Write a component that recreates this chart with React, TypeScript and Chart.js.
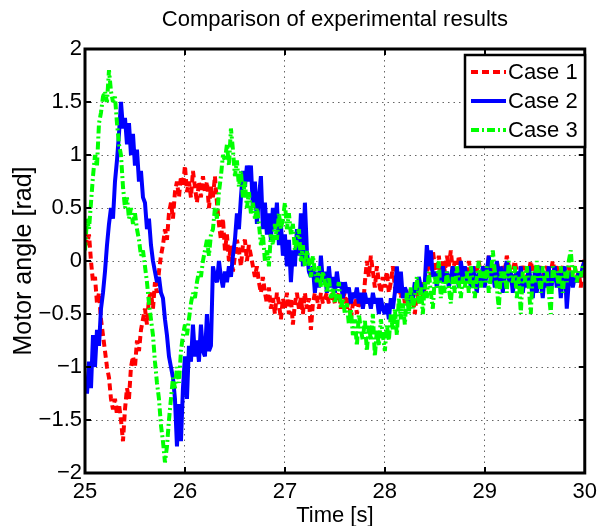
import React, { useEffect, useRef } from "react";
import { Chart, registerables } from "chart.js";

Chart.register(...registerables);

// ---- data ----
const T_START = 25;
const T_STEP = 0.02;
const xTicks = [25, 26, 27, 28, 29, 30];
const yTicks = [-2, -1.5, -1, -0.5, 0, 0.5, 1, 1.5, 2];
const seriesNames = ["Case 1", "Case 2", "Case 3"];
const titleText = "Comparison of experimental results";
const xTitle = "Time [s]";
const yTitle = "Motor angle [rad]";

// Case 1 (red, dashed)
const case1 = [
  0.3, 0.15, 0.25, 0.0, -0.2, -0.15, -0.4, -0.3, -0.55, -0.7,
  -0.85, -1.0, -1.1, -1.3, -1.4, -1.3, -1.45, -1.35, -1.5, -1.7,
  -1.4, -1.2, -1.3, -1.0, -0.9, -1.0, -0.75, -0.85, -0.65, -0.55,
  -0.45, -0.6, -0.35, -0.3, -0.45, -0.2, -0.3, -0.1, 0.05, 0.15,
  0.3, 0.2, 0.45, 0.55, 0.4, 0.65, 0.75, 0.6, 0.8, 0.7,
  0.9, 0.65, 0.75, 0.6, 0.85, 0.7, 0.55, 0.75, 0.6, 0.8,
  0.65, 0.75, 0.5, 0.7, 0.6, 0.8, 0.55, 0.35, 0.2, 0.4,
  0.1, 0.25, 0.0, 0.15, -0.1, 0.05, 0.2, 0.1, -0.05, 0.15,
  0.2, 0.0, 0.15, 0.05, -0.05, -0.15, -0.05, -0.2, -0.3, -0.15,
  -0.3, -0.4, -0.25, -0.45, -0.35, -0.5, -0.3, -0.4, -0.55, -0.35,
  -0.45, -0.3, -0.5, -0.35, -0.6, -0.4, -0.3, -0.45, -0.35, -0.5,
  -0.3, -0.45, -0.35, -0.65, -0.4, -0.3, -0.35, -0.45, -0.3, -0.4,
  -0.35, -0.3, -0.4, -0.35, -0.3, -0.4, -0.35, -0.3, -0.45, -0.35,
  -0.3, -0.45, -0.35, -0.55, -0.4, -0.3, -0.5, -0.4, -0.35, -0.45,
  -0.2, 0.0, -0.15, 0.05, -0.1, -0.25, -0.05, -0.2, -0.3, -0.15,
  -0.25, -0.1, -0.3, -0.2, -0.05, -0.25, -0.3, -0.15, -0.35, -0.25,
  -0.4, -0.3, -0.45, -0.25, -0.35, -0.5, -0.3, -0.4, -0.2, -0.35,
  -0.25, -0.1, 0.0, -0.15, 0.1, -0.05, -0.1, 0.05, -0.15, 0.0,
  -0.1, 0.05, -0.05, 0.1, -0.1, 0.0, -0.15, 0.05, -0.05, -0.15,
  -0.05, -0.15, 0.0, -0.1, -0.2, -0.05, -0.1, 0.0, -0.15, -0.1,
  -0.05, -0.15, 0.05, -0.1, -0.05, -0.2, 0.0, -0.1, -0.15, -0.05,
  -0.1, 0.05, -0.05, -0.15, -0.1, 0.0, -0.1, -0.2, -0.05, -0.1,
  -0.05, -0.15, -0.1, 0.0, -0.1, -0.05, -0.2, -0.1, -0.05, -0.15,
  -0.1, -0.05, -0.15, -0.1, 0.0, -0.1, -0.05, -0.15, -0.1, -0.05,
  -0.15, -0.1, -0.05, -0.2, -0.1, -0.05, -0.15, -0.1, -0.25, -0.1,
  0.05,
];

// Case 2 (blue, solid)
const case2 = [
  -1.1, -1.25, -0.95, -1.2, -0.7, -1.0, -0.65, -0.8, -0.45, -0.3,
  -0.1, 0.15, 0.35, 0.5, 0.4, 0.75, 0.95, 1.2, 1.5, 1.25,
  1.35, 1.1, 1.3, 1.0, 1.2, 0.9, 1.05, 0.75, 0.85, 0.6,
  0.55, 0.3, 0.4, 0.15, 0.0, -0.1, -0.2, -0.15, -0.3, -0.35,
  -0.55, -0.7, -0.9, -1.0, -1.1, -1.3, -1.75, -1.35, -1.7, -1.2,
  -0.9, -1.3, -0.8, -0.95, -0.6, -0.9, -0.75, -0.95, -0.6, -0.85,
  -0.9, -0.5, -0.85, -0.8, -0.05, -0.15, -0.2, 0.0, -0.15, -0.25,
  -0.1, -0.2, -0.05, -0.15, 0.05, 0.2, 0.45, 0.3, 0.6, 0.85,
  0.7, 0.9, 0.75, 0.9, 0.5, 0.75, 0.35, 0.6, 0.8, 0.3,
  0.55, 0.25, 0.45, 0.2, 0.5, 0.3, 0.55, 0.15, 0.35, 0.05,
  0.25, -0.05, 0.2, -0.2, 0.1, -0.05, 0.3, 0.05, 0.45, -0.05,
  0.55, 0.1, -0.1, -0.15, -0.05, -0.3, -0.1, -0.25, 0.05, -0.2,
  -0.1, -0.3, -0.05, -0.25, -0.15, -0.3, -0.1, -0.25, -0.2, -0.35,
  -0.2, -0.3, -0.25, -0.4, -0.3, -0.35, -0.25, -0.4, -0.3, -0.45,
  -0.3, -0.4, -0.35, -0.45, -0.3, -0.4, -0.35, -0.5, -0.35, -0.45,
  -0.5, -0.4, -0.55, -0.35, -0.45, -0.3, -0.05, -0.3, -0.1, -0.35,
  -0.25, -0.3, -0.4, -0.3, -0.35, -0.2, -0.3, -0.15, -0.25, -0.3,
  -0.2, 0.15, -0.05, 0.1, -0.15, -0.1, -0.25, -0.1, -0.2, -0.05,
  -0.2, -0.1, -0.25, -0.15, -0.05, -0.2, -0.1, -0.25, 0.0, -0.15,
  -0.05, -0.2, -0.1, -0.25, -0.05, -0.15, -0.3, -0.1, -0.2, -0.05,
  -0.25, -0.1, 0.05, -0.2, -0.1, -0.25, 0.0, -0.2, -0.05, -0.3,
  -0.1, 0.0, -0.2, -0.1, -0.3, -0.15, -0.1, -0.25, -0.05, -0.3,
  -0.15, -0.25, -0.05, -0.2, -0.35, -0.1, -0.3, -0.05, -0.2, -0.35,
  -0.1, -0.25, -0.05, -0.3, -0.15, -0.05, -0.25, -0.1, -0.35, -0.15,
  -0.05, -0.45, -0.2, -0.1, -0.25, -0.15, -0.2, -0.1, -0.15, -0.05,
  0.0,
];

// Case 3 (green, dash-dot)
const case3 = [
  0.1, 0.4, 0.3, 0.55, 0.8, 1.0, 0.9, 1.3, 1.4, 1.55,
  1.6, 1.5, 1.8, 1.6, 1.5, 1.55, 1.3, 1.1, 1.0, 0.7,
  0.5, 0.6, 0.4, 0.5, 0.35, 0.45, 0.3, 0.2, 0.05, 0.1,
  -0.05, -0.2, -0.4, -0.55, -0.7, -0.95, -1.15, -1.3, -1.55, -1.7,
  -1.9, -1.75, -1.5, -1.3, -1.1, -1.2, -1.0, -1.15, -0.85, -0.7,
  -0.6, -0.7, -0.55, -0.4, -0.3, -0.35, -0.2, -0.1, -0.15, 0.0,
  0.1, 0.2, 0.05, 0.25, 0.3, 0.5, 0.4, 0.65, 0.8, 1.0,
  0.95, 1.1, 0.9, 1.25, 1.05, 0.8, 0.95, 0.7, 0.85, 0.6,
  0.75, 0.5, 0.65, 0.45, 0.55, 0.4, 0.5, 0.35, 0.15, 0.25,
  0.0, 0.1, -0.05, 0.25, 0.15, 0.35, 0.2, 0.45, 0.3, 0.4,
  0.55, 0.3, 0.45, 0.25, 0.35, 0.1, 0.2, 0.3, 0.0, 0.15,
  -0.05, 0.1, 0.0, -0.15, 0.05, -0.1, -0.2, -0.05, -0.25, -0.1,
  -0.2, -0.3, -0.15, -0.35, -0.25, -0.4, -0.3, -0.2, -0.45, -0.35,
  -0.5, -0.4, -0.6, -0.45, -0.7, -0.55, -0.8, -0.5, -0.65, -0.75,
  -0.55, -0.85, -0.6, -0.75, -0.5, -0.9, -0.65, -0.8, -0.55, -0.7,
  -0.85, -0.6, -0.75, -0.5, -0.65, -0.45, -0.7, -0.35, -0.55, -0.4,
  -0.6, -0.3, -0.5, -0.25, -0.45, -0.35, -0.15, -0.4, -0.25, -0.5,
  -0.2, -0.35, -0.1, -0.3, -0.45, -0.15, -0.25, 0.0, -0.35, -0.2,
  -0.3, -0.1, -0.25, -0.4, -0.15, -0.3, -0.05, -0.2, -0.35, -0.15,
  -0.25, -0.1, -0.3, -0.05, -0.2, -0.35, -0.15, 0.0, -0.25, -0.1,
  -0.2, -0.05, -0.3, -0.15, 0.1, -0.1, -0.25, -0.45, -0.1, -0.2,
  -0.1, -0.3, 0.0, -0.15, -0.2, -0.05, -0.35, -0.15, -0.5, -0.1,
  -0.2, -0.05, -0.25, -0.5, -0.1, -0.2, 0.0, -0.15, -0.3, -0.05,
  -0.2, -0.1, -0.3, -0.5, -0.05, -0.15, -0.1, -0.25, -0.05, -0.3,
  -0.1, -0.2, 0.0, 0.1, -0.15, -0.05, -0.2, -0.1, -0.15, -0.05,
  -0.1,
];

const FONT = "'Liberation Sans', Arial, Helvetica, sans-serif";

const toPoints = (arr: number[]) =>
  arr.map((v, i) => ({ x: T_START + i * T_STEP, y: v }));

const fmt = (v: number) => (v < 0 ? "\u2212" + String(Math.abs(v)) : String(v));

const framePlugin = {
  id: "matlabFrame",
  afterDatasetsDraw(chart: any) {
    const { ctx, chartArea } = chart;
    const { left, right, top, bottom } = chartArea;
    const xs = chart.scales.x;
    const ys = chart.scales.y;
    ctx.save();
    ctx.strokeStyle = "#000";
    // inward tick marks
    ctx.lineWidth = 2;
    const tl = 6;
    ctx.beginPath();
    xTicks.forEach((t) => {
      const px = Math.round(xs.getPixelForValue(t));
      ctx.moveTo(px, bottom);
      ctx.lineTo(px, bottom - tl);
      ctx.moveTo(px, top);
      ctx.lineTo(px, top + tl);
    });
    yTicks.forEach((t) => {
      const py = Math.round(ys.getPixelForValue(t));
      ctx.moveTo(left, py);
      ctx.lineTo(left + tl, py);
      ctx.moveTo(right, py);
      ctx.lineTo(right - tl, py);
    });
    ctx.stroke();
    // box
    ctx.lineWidth = 3;
    ctx.strokeRect(left, top, right - left, bottom - top);

    // legend box
    const lx = 465, ly = 55, lw = 120, lh = 92;
    ctx.fillStyle = "#fff";
    ctx.fillRect(lx, ly, lw, lh);
    ctx.lineWidth = 2.5;
    ctx.strokeRect(lx, ly, lw, lh);
    const rowY = [72, 101, 130];
    ctx.font = "22px " + FONT;
    ctx.textBaseline = "middle";
    ctx.textAlign = "left";
    chart.data.datasets.forEach((ds: any, i: number) => {
      ctx.save();
      ctx.strokeStyle = ds.borderColor;
      ctx.lineWidth = ds.borderWidth;
      ctx.setLineDash(ds.borderDash || []);
      ctx.lineCap = "butt";
      ctx.beginPath();
      ctx.moveTo(471, rowY[i]);
      ctx.lineTo(506, rowY[i]);
      ctx.stroke();
      ctx.restore();
      ctx.fillStyle = "#000";
      ctx.fillText(seriesNames[i], 508, rowY[i] + 1);
    });
    ctx.restore();
  },
};

export default function App() {
  const canvasRef = useRef<HTMLCanvasElement | null>(null);

  useEffect(() => {
    if (!canvasRef.current) return;
    const chart = new Chart(canvasRef.current, {
      type: "line",
      data: {
        datasets: [
          {
            label: seriesNames[0],
            data: toPoints(case1),
            borderColor: "#ff0000",
            borderWidth: 4,
            borderDash: [7, 4],
            pointRadius: 0,
            tension: 0,
            borderJoinStyle: "bevel",
            order: 3,
          },
          {
            label: seriesNames[1],
            data: toPoints(case2),
            borderColor: "#0000ff",
            borderWidth: 4,
            pointRadius: 0,
            tension: 0,
            borderJoinStyle: "bevel",
            order: 2,
          },
          {
            label: seriesNames[2],
            data: toPoints(case3),
            borderColor: "#00ff00",
            borderWidth: 4,
            borderDash: [8, 3, 2, 3],
            pointRadius: 0,
            tension: 0,
            borderJoinStyle: "bevel",
            order: 1,
          },
        ],
      },
      options: {
        animation: false,
        responsive: false,
        maintainAspectRatio: false,
        events: [],
        layout: { padding: { left: 0, right: 13, top: 0, bottom: 0 } },
        plugins: {
          legend: { display: false },
          tooltip: { enabled: false },
          title: {
            display: true,
            text: titleText,
            fullSize: false,
            color: "#000",
            font: { family: FONT, size: 22, weight: "normal", lineHeight: 1 },
            padding: { top: 9, bottom: 18 },
          },
        },
        scales: {
          x: {
            type: "linear",
            min: 25,
            max: 30,
            afterBuildTicks: (axis: any) => {
              axis.ticks = xTicks.map((v) => ({ value: v }));
            },
            afterFit: (s: any) => {
              s.height = 53;
            },
            ticks: {
              color: "#000",
              font: { family: FONT, size: 22 },
              padding: 6,
              maxRotation: 0,
              autoSkip: false,
              callback: (v: any) => fmt(Number(v)),
            },
            grid: {
              color: "#666",
              lineWidth: 1,
              drawTicks: false,
            },
            border: { display: false, dash: [1.5, 4] },
            title: {
              display: true,
              text: xTitle,
              color: "#000",
              font: { family: FONT, size: 22, lineHeight: 1 },
              padding: { top: 0, bottom: -1 },
            },
          },
          y: {
            type: "linear",
            min: -2,
            max: 2,
            afterBuildTicks: (axis: any) => {
              axis.ticks = yTicks.map((v) => ({ value: v }));
            },
            afterFit: (s: any) => {
              s.width = 85;
            },
            ticks: {
              color: "#000",
              font: { family: FONT, size: 22 },
              padding: 3,
              autoSkip: false,
              callback: (v: any) => fmt(Number(v)),
            },
            grid: {
              color: "#666",
              lineWidth: 1,
              drawTicks: false,
            },
            border: { display: false, dash: [1.5, 4] },
            title: {
              display: true,
              text: yTitle,
              color: "#000",
              font: { family: FONT, size: 25, lineHeight: 1 },
              padding: { top: 12, bottom: 0 },
            },
          },
        },
      },
      plugins: [framePlugin],
    } as any);
    return () => chart.destroy();
  }, []);

  return (
    <div style={{ position: "fixed", left: 0, top: 0, width: 603, height: 526, background: "#fff" }}>
      <canvas ref={canvasRef} width={603} height={526} style={{ display: "block", width: 603, height: 526 }} />
    </div>
  );
}
